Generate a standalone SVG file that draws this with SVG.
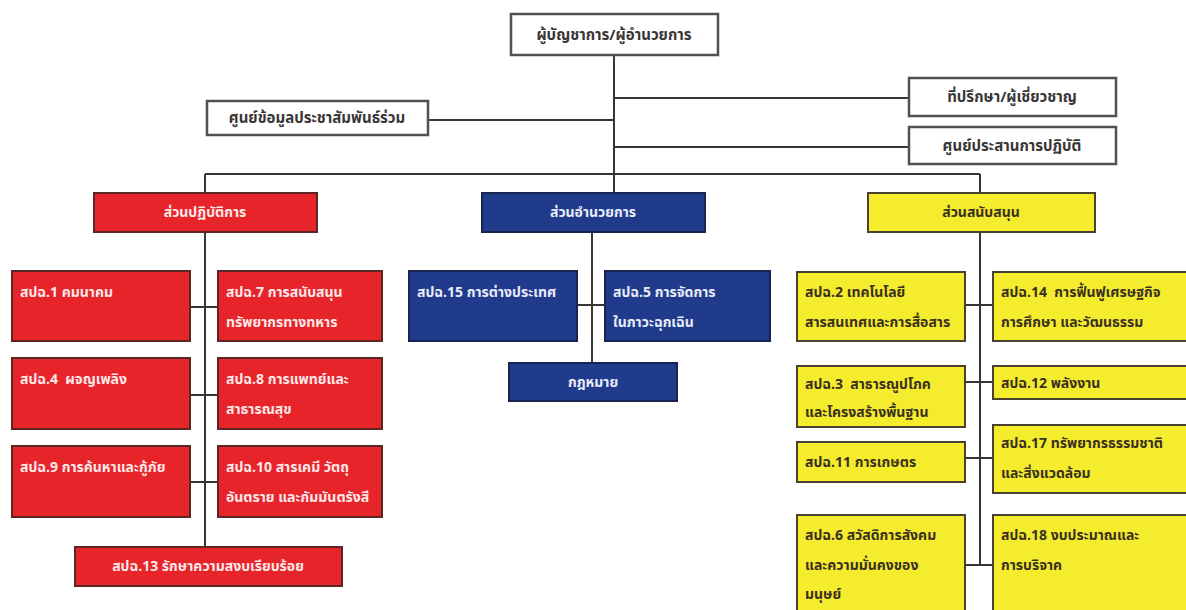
<svg xmlns="http://www.w3.org/2000/svg" width="1186" height="610" viewBox="0 0 1186 610">
<style>
text{font-family:"Noto Sans Thai","Noto Sans","DejaVu Sans",sans-serif;font-weight:bold;font-size:14px}
.w rect{fill:#ffffff;stroke:#555050;stroke-width:2.5}
.w text{fill:#3a3535;font-size:15px;text-anchor:middle}
.r rect{fill:#e8242b;stroke:#5a2626;stroke-width:2}
.r text{fill:#fde8e8}
.b rect{fill:#213b8c;stroke:#1a2450;stroke-width:2}
.b text{fill:#e8ecf8}
.y rect{fill:#f4ec2c;stroke:#4a4030;stroke-width:2}
.y text{fill:#3a3020}
.c{text-anchor:middle}
#connectors path{fill:none;stroke:#3a3535;stroke-width:2}
</style>
<rect width="1186" height="610" fill="#ffffff"/>
<g id="connectors">
<path d="M614 55V174M428 120H614M614 98H909M614 147H909M205 174H980M205 174V193M614 174V193M980 174V193"/>
<path d="M205 232V547M190 307H218M190 395H218M190 482H218"/>
<path d="M592 232V363M577 305H605"/>
<path d="M980 232V565M965 305H993M965 382H993M965 458H993M965 565H993"/>
</g>
<g id="n-top" class="w"><rect x="511" y="14" width="207" height="41"/><text x="614" y="40">ผู้บัญชาการ/ผู้อำนวยการ</text></g>
<g id="n-pr" class="w"><rect x="207" y="101" width="221" height="34"/><text x="317" y="123">ศูนย์ข้อมูลประชาสัมพันธ์ร่วม</text></g>
<g id="n-adv" class="w"><rect x="909" y="78" width="207" height="38"/><text x="1012" y="102">ที่ปรึกษา/ผู้เชี่ยวชาญ</text></g>
<g id="n-coord" class="w"><rect x="909" y="127" width="207" height="37"/><text x="1012" y="151">ศูนย์ประสานการปฏิบัติ</text></g>

<g id="n-ops" class="r"><rect x="94" y="193" width="223" height="39"/><text class="c" x="205" y="217">ส่วนปฏิบัติการ</text></g>
<g id="n-cmd" class="b"><rect x="482" y="193" width="223" height="39"/><text class="c" x="593" y="217">ส่วนอำนวยการ</text></g>
<g id="n-sup" class="y"><rect x="868" y="193" width="227" height="39"/><text class="c" x="981" y="217">ส่วนสนับสนุน</text></g>

<g id="n-esf1" class="r"><rect x="12" y="271" width="178" height="70"/><text x="20" y="297">สปฉ.1 คมนาคม</text></g>
<g id="n-esf7" class="r"><rect x="218" y="271" width="164" height="70"/><text x="226" y="297">สปฉ.7 การสนับสนุน</text><text x="226" y="327">ทรัพยากรทางทหาร</text></g>
<g id="n-esf4" class="r"><rect x="12" y="358" width="178" height="71"/><text x="20" y="384">สปฉ.4&#160; ผจญเพลิง</text></g>
<g id="n-esf8" class="r"><rect x="218" y="358" width="164" height="71"/><text x="226" y="384">สปฉ.8 การแพทย์และ</text><text x="226" y="414">สาธารณสุข</text></g>
<g id="n-esf9" class="r"><rect x="12" y="446" width="178" height="71"/><text x="20" y="472">สปฉ.9 การค้นหาและกู้ภัย</text></g>
<g id="n-esf10" class="r"><rect x="218" y="446" width="164" height="71"/><text x="226" y="472">สปฉ.10 สารเคมี วัตถุ</text><text x="226" y="502">อันตราย และกัมมันตรังสี</text></g>
<g id="n-esf13" class="r"><rect x="75" y="547" width="267" height="39"/><text class="c" x="208" y="571">สปฉ.13 รักษาความสงบเรียบร้อย</text></g>

<g id="n-esf15" class="b"><rect x="409" y="271" width="168" height="70"/><text x="417" y="297">สปฉ.15 การต่างประเทศ</text></g>
<g id="n-esf5" class="b"><rect x="605" y="271" width="165" height="70"/><text x="613" y="297">สปฉ.5 การจัดการ</text><text x="613" y="327">ในภาวะฉุกเฉิน</text></g>
<g id="n-law" class="b"><rect x="509" y="363" width="168" height="38"/><text class="c" x="593" y="387">กฎหมาย</text></g>

<g id="n-esf2" class="y"><rect x="797" y="272" width="168" height="69"/><text x="805" y="297">สปฉ.2 เทคโนโลยี</text><text x="805" y="327">สารสนเทศและการสื่อสาร</text></g>
<g id="n-esf14" class="y"><rect x="993" y="272" width="200" height="69"/><text x="1001" y="297">สปฉ.14&#160; การฟื้นฟูเศรษฐกิจ</text><text x="1001" y="327">การศึกษา และวัฒนธรรม</text></g>
<g id="n-esf3" class="y"><rect x="797" y="366" width="168" height="61"/><text x="805" y="389">สปฉ.3&#160; สาธารณูปโภค</text><text x="805" y="417">และโครงสร้างพื้นฐาน</text></g>
<g id="n-esf12" class="y"><rect x="993" y="366" width="200" height="33"/><text x="1001" y="388">สปฉ.12 พลังงาน</text></g>
<g id="n-esf11" class="y"><rect x="797" y="442" width="168" height="40"/><text x="805" y="467">สปฉ.11 การเกษตร</text></g>
<g id="n-esf17" class="y"><rect x="993" y="425" width="200" height="68"/><text x="1001" y="448">สปฉ.17 ทรัพยากรธรรมชาติ</text><text x="1001" y="478">และสิ่งแวดล้อม</text></g>
<g id="n-esf6" class="y"><rect x="797" y="515" width="168" height="100"/><text x="805" y="540">สปฉ.6 สวัสดิการสังคม</text><text x="805" y="570">และความมั่นคงของ</text><text x="805" y="599">มนุษย์</text></g>
<g id="n-esf18" class="y"><rect x="993" y="515" width="200" height="100"/><text x="1001" y="540">สปฉ.18 งบประมาณและ</text><text x="1001" y="570">การบริจาค</text></g>
</svg>
